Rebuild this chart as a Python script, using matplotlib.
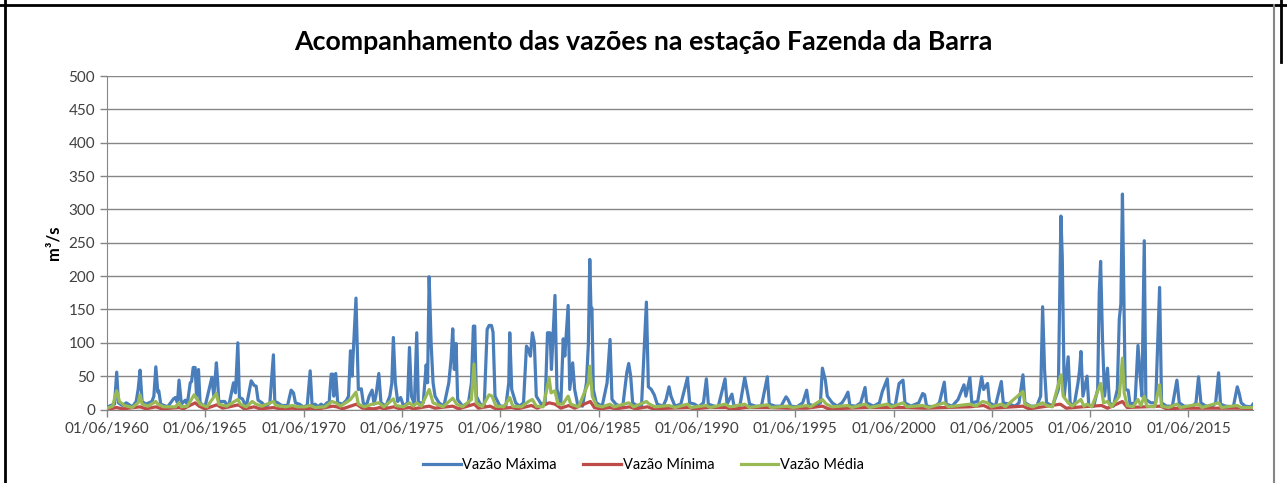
import matplotlib.pyplot as plt
from matplotlib.lines import Line2D

# monthly discharge peaks/troughs (decimal year, m3/s)
vazao_maxima = [
    (1960.42, 3), (1960.6, 6), (1960.8, 8), (1960.91, 56), (1961.0, 10), (1961.2, 6), (1961.4, 10),
    (1961.7, 4), (1961.9, 12), (1962.0, 30), (1962.1, 59), (1962.2, 12), (1962.4, 8), (1962.7, 12),
    (1962.8, 20), (1962.9, 64), (1963.0, 26), (1963.05, 28), (1963.15, 8), (1963.5, 4), (1963.8, 16),
    (1963.9, 18), (1964.0, 10), (1964.08, 44), (1964.2, 8), (1964.4, 14), (1964.5, 8), (1964.65, 40),
    (1964.72, 42), (1964.8, 63), (1964.9, 63), (1964.97, 20), (1965.07, 60), (1965.15, 10), (1965.4, 4),
    (1965.75, 48), (1965.85, 20), (1965.98, 70), (1966.05, 40), (1966.1, 12), (1966.4, 12), (1966.6, 4),
    (1966.85, 40), (1966.95, 25), (1967.07, 100), (1967.15, 18), (1967.3, 16), (1967.5, 4),
    (1967.75, 43), (1967.9, 36), (1968.0, 35), (1968.1, 14), (1968.3, 10), (1968.5, 4), (1968.7, 10),
    (1968.88, 82), (1968.95, 12), (1969.1, 10), (1969.3, 6), (1969.6, 6), (1969.78, 29), (1969.9, 25),
    (1970.0, 10), (1970.2, 8), (1970.4, 4), (1970.6, 6), (1970.75, 58), (1970.85, 5), (1971.0, 8),
    (1971.15, 4), (1971.3, 8), (1971.45, 5), (1971.6, 10), (1971.7, 5), (1971.82, 53), (1971.9, 53),
    (1971.95, 20), (1972.05, 54), (1972.15, 10), (1972.4, 8), (1972.6, 14), (1972.7, 20), (1972.8, 88),
    (1972.88, 50), (1973.08, 167), (1973.2, 30), (1973.35, 31), (1973.45, 10), (1973.6, 5),
    (1973.75, 20), (1973.9, 29), (1974.0, 8), (1974.1, 22), (1974.24, 54), (1974.35, 10), (1974.6, 5),
    (1974.8, 20), (1974.9, 39), (1974.98, 108), (1975.08, 40), (1975.2, 12), (1975.35, 18), (1975.5, 5),
    (1975.7, 10), (1975.8, 93), (1975.9, 20), (1976.05, 8), (1976.17, 115), (1976.25, 10), (1976.5, 10),
    (1976.65, 67), (1976.72, 40), (1976.8, 199), (1976.9, 100), (1977.0, 40), (1977.1, 20), (1977.3, 10),
    (1977.55, 5), (1977.8, 40), (1977.92, 77), (1978.0, 121), (1978.08, 60), (1978.17, 99), (1978.25, 15),
    (1978.5, 5), (1978.8, 10), (1978.95, 40), (1979.05, 125), (1979.12, 125), (1979.2, 20), (1979.4, 8),
    (1979.6, 5), (1979.75, 120), (1979.85, 126), (1979.97, 126), (1980.05, 116), (1980.15, 20),
    (1980.4, 5), (1980.7, 5), (1980.85, 40), (1980.9, 115), (1981.0, 30), (1981.2, 10), (1981.4, 5),
    (1981.6, 10), (1981.75, 95), (1981.85, 90), (1981.95, 80), (1982.05, 115), (1982.15, 100),
    (1982.25, 20), (1982.5, 8), (1982.7, 10), (1982.82, 115), (1982.95, 115), (1983.02, 60),
    (1983.2, 171), (1983.3, 30), (1983.5, 10), (1983.62, 106), (1983.7, 80), (1983.87, 156),
    (1983.95, 30), (1984.1, 70), (1984.2, 30), (1984.35, 8), (1984.6, 5), (1984.8, 40), (1984.9, 99),
    (1984.97, 225), (1985.03, 150), (1985.08, 152), (1985.15, 30), (1985.3, 10), (1985.6, 5),
    (1985.85, 40), (1986.0, 105), (1986.1, 15), (1986.3, 8), (1986.5, 5), (1986.65, 5), (1986.85, 55),
    (1986.95, 69), (1987.05, 50), (1987.15, 10), (1987.4, 5), (1987.6, 5), (1987.85, 161), (1987.95, 34),
    (1988.1, 30), (1988.25, 22), (1988.4, 8), (1988.7, 5), (1988.85, 15), (1989.0, 34), (1989.1, 20),
    (1989.3, 5), (1989.6, 8), (1989.94, 48), (1990.05, 10), (1990.3, 8), (1990.5, 4), (1990.75, 10),
    (1990.9, 46), (1991.0, 8), (1991.3, 5), (1991.5, 4), (1991.85, 46), (1991.95, 8), (1992.2, 23),
    (1992.3, 6), (1992.6, 5), (1992.85, 48), (1992.95, 32), (1993.1, 8), (1993.4, 5), (1993.7, 5),
    (1994.0, 49), (1994.1, 8), (1994.4, 5), (1994.7, 5), (1994.95, 19), (1995.05, 15), (1995.2, 5),
    (1995.5, 4), (1995.8, 10), (1996.0, 29), (1996.1, 8), (1996.4, 5), (1996.7, 10), (1996.8, 62),
    (1996.95, 44), (1997.05, 20), (1997.3, 10), (1997.55, 5), (1997.8, 10), (1997.95, 17), (1998.1, 26),
    (1998.2, 6), (1998.5, 5), (1998.75, 10), (1998.97, 33), (1999.05, 10), (1999.4, 5), (1999.7, 10),
    (1999.85, 27), (2000.1, 46), (2000.2, 8), (2000.5, 5), (2000.7, 39), (2000.9, 44), (2001.0, 10),
    (2001.3, 5), (2001.7, 10), (2001.9, 24), (2002.0, 22), (2002.1, 5), (2002.5, 4), (2002.75, 10),
    (2003.0, 41), (2003.1, 8), (2003.4, 5), (2003.7, 15), (2004.0, 37), (2004.1, 20), (2004.3, 48),
    (2004.4, 10), (2004.7, 12), (2004.9, 49), (2005.0, 30), (2005.2, 39), (2005.3, 10), (2005.6, 5),
    (2005.9, 42), (2006.0, 10), (2006.3, 8), (2006.6, 5), (2006.8, 10), (2007.0, 52), (2007.1, 10),
    (2007.4, 5), (2007.7, 5), (2007.9, 20), (2008.0, 154), (2008.1, 59), (2008.2, 10), (2008.5, 5),
    (2008.8, 30), (2008.93, 290), (2009.0, 229), (2009.1, 20), (2009.3, 79), (2009.4, 10), (2009.6, 5),
    (2009.8, 40), (2009.88, 59), (2009.95, 87), (2010.05, 20), (2010.26, 50), (2010.35, 5), (2010.6, 5),
    (2010.8, 30), (2010.88, 175), (2010.95, 222), (2011.05, 101), (2011.15, 20), (2011.3, 62),
    (2011.4, 10), (2011.6, 5), (2011.8, 30), (2011.9, 136), (2011.98, 158), (2012.06, 323),
    (2012.12, 194), (2012.2, 30), (2012.35, 29), (2012.45, 8), (2012.7, 10), (2012.85, 96),
    (2012.95, 54), (2013.05, 20), (2013.17, 253), (2013.25, 15), (2013.5, 10), (2013.75, 10),
    (2013.95, 183), (2014.05, 10), (2014.3, 5), (2014.6, 5), (2014.83, 44), (2014.95, 10), (2015.2, 5),
    (2015.6, 4), (2015.8, 10), (2015.93, 49), (2016.05, 10), (2016.3, 5), (2016.6, 4), (2016.8, 10),
    (2016.95, 55), (2017.05, 8), (2017.3, 5), (2017.7, 4), (2017.9, 34), (2018.0, 24), (2018.1, 10),
    (2018.3, 5), (2018.6, 4), (2018.7, 8),
]

vazao_minima = [
    (1960.42, 0), (1960.9, 3), (1961.2, 1), (1962.1, 4), (1962.4, 1), (1962.9, 4), (1963.2, 1),
    (1964.1, 3), (1964.3, 1), (1964.9, 10), (1965.1, 5), (1965.4, 1), (1966.0, 7), (1966.3, 2),
    (1967.1, 7), (1967.4, 1), (1967.9, 4), (1968.2, 1), (1968.9, 3), (1969.2, 1), (1969.9, 2),
    (1970.2, 0), (1970.8, 2), (1971.0, 0), (1971.9, 5), (1972.1, 4), (1972.4, 1), (1973.1, 8),
    (1973.4, 2), (1974.0, 1), (1974.3, 3), (1974.5, 1), (1975.0, 4), (1975.3, 1), (1975.8, 3),
    (1976.0, 1), (1976.8, 5), (1977.1, 2), (1978.0, 5), (1978.3, 1), (1979.1, 8), (1979.3, 2),
    (1979.9, 5), (1980.2, 1), (1981.0, 3), (1981.3, 1), (1982.0, 6), (1982.3, 2), (1982.9, 10),
    (1983.2, 8), (1983.5, 2), (1983.9, 6), (1984.2, 2), (1985.0, 12), (1985.2, 3), (1985.5, 1),
    (1986.0, 3), (1986.3, 1), (1987.0, 4), (1987.3, 1), (1987.9, 4), (1988.2, 1), (1989.0, 2),
    (1990.0, 3), (1990.3, 1), (1991.0, 3), (1991.9, 3), (1992.2, 0), (1992.9, 3), (1994.0, 3),
    (1995.0, 2), (1996.0, 2), (1996.8, 5), (1997.1, 1), (1998.1, 2), (1999.0, 3), (2000.1, 3),
    (2001.0, 3), (2002.0, 2), (2003.0, 3), (2004.3, 4), (2005.0, 6), (2005.3, 2), (2006.0, 3),
    (2007.0, 5), (2007.3, 1), (2008.0, 4), (2008.9, 8), (2009.2, 2), (2010.0, 4), (2011.0, 6),
    (2011.3, 2), (2012.06, 12), (2012.3, 3), (2013.2, 4), (2014.0, 5), (2014.3, 1), (2015.0, 2),
    (2016.0, 2), (2017.0, 2), (2018.0, 2), (2018.7, 1),
]

vazao_media = [
    (1960.42, 2), (1960.7, 5), (1960.91, 28), (1961.05, 12), (1961.3, 6), (1961.7, 3), (1962.0, 10),
    (1962.1, 22), (1962.2, 8), (1962.5, 5), (1962.9, 12), (1963.0, 8), (1963.3, 4), (1963.9, 4),
    (1964.08, 10), (1964.2, 4), (1964.5, 5), (1964.85, 22), (1965.0, 15), (1965.15, 8), (1965.5, 4),
    (1965.98, 24), (1966.1, 8), (1966.5, 5), (1967.07, 15), (1967.2, 8), (1967.5, 4), (1967.8, 12),
    (1968.0, 8), (1968.3, 5), (1968.88, 12), (1969.0, 6), (1969.5, 4), (1969.85, 6), (1970.1, 4),
    (1970.5, 4), (1970.75, 6), (1971.0, 3), (1971.5, 4), (1971.85, 12), (1972.05, 10), (1972.3, 5),
    (1972.8, 15), (1973.08, 26), (1973.2, 8), (1973.5, 4), (1973.9, 8), (1974.24, 10), (1974.5, 4),
    (1974.98, 16), (1975.1, 6), (1975.5, 4), (1975.8, 10), (1976.0, 5), (1976.17, 10), (1976.4, 5),
    (1976.8, 30), (1977.0, 10), (1977.5, 4), (1978.0, 17), (1978.2, 8), (1978.5, 4), (1978.95, 15),
    (1979.08, 68), (1979.2, 10), (1979.5, 4), (1979.85, 22), (1980.0, 20), (1980.2, 5), (1980.6, 4),
    (1980.9, 18), (1981.05, 5), (1981.5, 4), (1981.85, 12), (1982.05, 15), (1982.25, 5), (1982.6, 4),
    (1982.9, 47), (1983.0, 25), (1983.2, 28), (1983.35, 8), (1983.6, 8), (1983.87, 20), (1984.0, 8),
    (1984.4, 4), (1984.9, 40), (1984.97, 65), (1985.1, 20), (1985.3, 6), (1985.6, 4), (1986.0, 8),
    (1986.2, 4), (1986.95, 10), (1987.2, 4), (1987.85, 12), (1988.0, 8), (1988.3, 4), (1989.0, 6),
    (1989.3, 3), (1989.94, 8), (1990.1, 3), (1990.9, 6), (1991.1, 3), (1991.85, 8), (1992.1, 4),
    (1992.85, 8), (1993.1, 3), (1994.0, 7), (1994.2, 3), (1995.0, 5), (1995.3, 3), (1996.0, 6),
    (1996.2, 4), (1996.8, 15), (1997.0, 8), (1997.3, 4), (1998.1, 6), (1998.3, 3), (1998.97, 8),
    (1999.2, 3), (2000.1, 8), (2000.3, 4), (2000.9, 10), (2001.1, 4), (2001.9, 6), (2002.2, 3),
    (2003.0, 10), (2003.2, 4), (2004.3, 8), (2004.6, 5), (2004.95, 12), (2005.2, 10), (2005.4, 4),
    (2005.9, 8), (2006.1, 4), (2007.0, 27), (2007.1, 8), (2007.5, 4), (2008.0, 10), (2008.2, 6),
    (2008.5, 4), (2008.93, 52), (2009.05, 20), (2009.3, 10), (2009.5, 5), (2009.95, 15), (2010.1, 5),
    (2010.26, 8), (2010.5, 4), (2010.95, 39), (2011.1, 10), (2011.3, 12), (2011.5, 4), (2011.9, 20),
    (2012.06, 77), (2012.15, 25), (2012.3, 6), (2012.6, 4), (2012.85, 15), (2013.0, 6), (2013.17, 20),
    (2013.3, 5), (2013.7, 4), (2013.95, 37), (2014.05, 5), (2014.4, 3), (2014.83, 8), (2015.0, 3),
    (2015.93, 8), (2016.1, 3), (2016.95, 10), (2017.1, 3), (2017.9, 6), (2018.1, 3), (2018.7, 3),
]

anos_ticks = [1960, 1965, 1970, 1975, 1980, 1985, 1990, 1995, 2000, 2005, 2010, 2015]
y_ticks = [0, 50, 100, 150, 200, 250, 300, 350, 400, 450, 500]

series = [
    ("Vazão Máxima", vazao_maxima, "#4a7ebb"),
    ("Vazão Mínima", vazao_minima, "#be4b48"),
    ("Vazão Média", vazao_media, "#98b954"),
]

plt.rcParams['font.family'] = ['Lato', 'DejaVu Sans']

fig = plt.figure(figsize=(12.87, 4.83), dpi=100)
ax = fig.add_axes([107 / 1287, 1 - 409.5 / 483, (1253 - 107) / 1287, (409.5 - 76) / 483])

for nome, pts, cor in series:
    xs = [p[0] for p in pts]
    ys = [p[1] for p in pts]
    ax.plot(xs, ys, color=cor, lw=2.3, label=nome, solid_joinstyle='round', zorder=3)

ax.set_xlim(1960.42, 2018.7)
ax.set_ylim(0, 500)
ax.set_yticks(y_ticks)
ax.set_xticks([a + 5 / 12 for a in anos_ticks])
ax.set_xticklabels(["01/06/%d" % a for a in anos_ticks])
ax.tick_params(axis='both', colors='#868686', labelcolor='#404040', labelsize=11, length=5, width=1)
ax.tick_params(axis='x', pad=4)
ax.grid(axis='y', color='#868686', lw=1)
ax.set_axisbelow(True)
for lado in ['top', 'right']:
    ax.spines[lado].set_visible(False)
for lado in ['left', 'bottom']:
    ax.spines[lado].set_color('#868686')
ax.set_ylabel("m³/s", fontsize=12, fontweight='bold', color='#000000', labelpad=5)

fig.text(0.5, 1 - 42 / 483, "Acompanhamento das vazões na estação Fazenda da Barra",
         ha='center', va='center', fontsize=19.3, fontweight='bold')

handles = [Line2D([], [], color=c, lw=2.3) for _, _, c in series]
fig.legend(handles, [n for n, _, _ in series], loc='center', bbox_to_anchor=(0.5, 1 - 465 / 483),
           ncol=3, frameon=False, fontsize=10.5, handlelength=2.6, handletextpad=0.1, columnspacing=1.8)

# moldura do documento (preta) e borda da area do grafico (cinza)
fig.add_artist(Line2D([5 / 1287, 5 / 1287], [0, 1], color='black', lw=2))
fig.add_artist(Line2D([0, 1], [1 - 5 / 483, 1 - 5 / 483], color='black', lw=2))
fig.add_artist(Line2D([1281 / 1287, 1281 / 1287], [1 - 62 / 483, 1], color='black', lw=2))
fig.add_artist(Line2D([1274 / 1287, 1274 / 1287], [0, 1 - 5 / 483], color='#868686', lw=1.5))

fig.savefig("out.png", dpi=100, facecolor='white')
